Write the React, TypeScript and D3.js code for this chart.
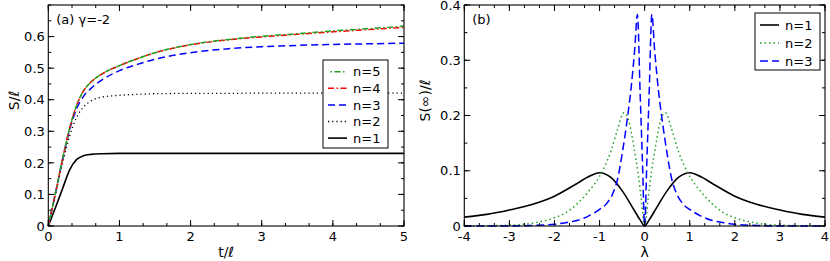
import React from 'react';
import * as d3 from 'd3';

// panel (a): S/l versus t/l, gamma = -2
const tVals = [0, 0.1, 0.2, 0.3, 0.4, 0.5, 0.6, 0.75, 1, 1.25, 1.5, 2, 2.5, 3, 3.5, 4, 4.5, 5];
const sN1 = [0, 0.058, 0.118, 0.178, 0.211, 0.223, 0.227, 0.229, 0.23, 0.23, 0.23, 0.23, 0.23, 0.23, 0.23, 0.23, 0.23, 0.23];
const sN2 = [0, 0.1, 0.198, 0.285, 0.345, 0.378, 0.396, 0.408, 0.414, 0.417, 0.419, 0.42, 0.42, 0.421, 0.421, 0.421, 0.421, 0.421];
const sN3 = [0, 0.103, 0.21, 0.305, 0.372, 0.412, 0.436, 0.462, 0.492, 0.512, 0.528, 0.549, 0.561, 0.568, 0.572, 0.575, 0.577, 0.579];
const sN4 = [0, 0.104, 0.212, 0.31, 0.383, 0.43, 0.456, 0.481, 0.508, 0.53, 0.549, 0.574, 0.589, 0.599, 0.607, 0.615, 0.622, 0.629];
const sN5 = [0, 0.104, 0.212, 0.31, 0.383, 0.43, 0.456, 0.481, 0.508, 0.53, 0.549, 0.575, 0.59, 0.601, 0.609, 0.618, 0.625, 0.633];

// panel (b): S(inf)/l versus lambda
const lam1 = [-4, -3.5, -3, -2.5, -2, -1.5, -1.25, -1, -0.75, -0.5, -0.25, -0.1, 0, 0.1, 0.25, 0.5, 0.75, 1, 1.25, 1.5, 2, 2.5, 3, 3.5, 4];
const inf1 = [0.016, 0.021, 0.029, 0.039, 0.054, 0.077, 0.089, 0.0965, 0.088, 0.064, 0.031, 0.011, 0, 0.011, 0.031, 0.064, 0.088, 0.0965, 0.089, 0.077, 0.054, 0.039, 0.029, 0.021, 0.016];
const lam2 = [-4, -3.5, -3, -2.5, -2, -1.75, -1.5, -1.25, -1, -0.75, -0.6, -0.46, -0.35, -0.25, -0.15, -0.07, 0, 0.07, 0.15, 0.25, 0.35, 0.46, 0.6, 0.75, 1, 1.25, 1.5, 1.75, 2, 2.5, 3, 3.5, 4];
const inf2 = [0, 0.0005, 0.0015, 0.005, 0.015, 0.024, 0.04, 0.062, 0.09, 0.135, 0.175, 0.205, 0.19, 0.148, 0.097, 0.045, 0, 0.045, 0.097, 0.148, 0.19, 0.205, 0.175, 0.135, 0.09, 0.062, 0.04, 0.024, 0.015, 0.005, 0.0015, 0.0005, 0];
const lam3 = [-4, -3, -2.5, -2, -1.75, -1.5, -1.25, -1, -0.85, -0.7, -0.6, -0.5, -0.4, -0.3, -0.22, -0.16, -0.1, -0.05, 0, 0.05, 0.1, 0.16, 0.22, 0.3, 0.4, 0.5, 0.6, 0.7, 0.85, 1, 1.25, 1.5, 1.75, 2, 2.5, 3, 4];
const inf3 = [0, 0, 0.001, 0.003, 0.006, 0.01, 0.018, 0.03, 0.04, 0.06, 0.085, 0.13, 0.185, 0.25, 0.32, 0.383, 0.24, 0.12, 0, 0.12, 0.24, 0.383, 0.32, 0.25, 0.185, 0.13, 0.085, 0.06, 0.04, 0.03, 0.018, 0.01, 0.006, 0.003, 0.001, 0, 0];

const aXTicks = [0, 1, 2, 3, 4, 5];
const aYTicks = [0, 0.1, 0.2, 0.3, 0.4, 0.5, 0.6];
const bXTicks = [-4, -3, -2, -1, 0, 1, 2, 3, 4];
const bYTicks = [0, 0.1, 0.2, 0.3, 0.4];

const FONT = 'DejaVu Sans, Verdana, sans-serif';
const GREEN = '#22a022';

type Series = { name: string; xs: number[]; ys: number[]; color: string; dash?: string; offset?: number; width?: number };

const fmt = (v: number) => String(+v.toFixed(2));

function Panel(props: {
  x0: number; x1: number; y0: number; y1: number;
  xDomain: [number, number]; yDomain: [number, number];
  xTicks: number[]; yTicks: number[]; xMinorStep: number; yMinorStep: number;
  series: Series[]; tag: string; xTitle: string; yTitle: string; yTitleX: number;
  legend: Series[]; legendBox: [number, number, number, number]; legendY0: number; legendStep: number;
}) {
  const p = props;
  const x = d3.scaleLinear().domain(p.xDomain).range([p.x0, p.x1]);
  const y = d3.scaleLinear().domain(p.yDomain).range([p.y1, p.y0]);
  const xMinor = d3.range(p.xDomain[0], p.xDomain[1] + 1e-9, p.xMinorStep);
  const yMinor = d3.range(p.yDomain[0], p.yDomain[1] + 1e-9, p.yMinorStep);
  const line = d3.line<[number, number]>().x(d => x(d[0])).y(d => y(d[1])).curve(d3.curveMonotoneX);
  const [lx, ly, lw, lh] = p.legendBox;

  return (
    <g>
      <defs>
        <clipPath id={'clip' + p.tag}>
          <rect x={p.x0} y={p.y0} width={p.x1 - p.x0} height={p.y1 - p.y0} />
        </clipPath>
      </defs>
      <g clipPath={`url(#clip${p.tag})`}>
        {p.series.map(s => (
          <path key={s.name} d={line(s.xs.map((v, i) => [v, s.ys[i]]) as [number, number][]) || ''}
            fill="none" stroke={s.color} strokeWidth={s.width ?? 1.5}
            strokeDasharray={s.dash} strokeDashoffset={s.offset ?? 0} />
        ))}
      </g>
      <rect x={p.x0} y={p.y0} width={p.x1 - p.x0} height={p.y1 - p.y0} fill="none" stroke="#000" strokeWidth={1.1} />
      {/* ticks, inward on all sides */}
      {xMinor.map((v, i) => (
        <g key={'xm' + i} stroke="#000" strokeWidth={1}>
          <line x1={x(v)} x2={x(v)} y1={p.y1} y2={p.y1 - 3} />
          <line x1={x(v)} x2={x(v)} y1={p.y0} y2={p.y0 + 3} />
        </g>
      ))}
      {yMinor.map((v, i) => (
        <g key={'ym' + i} stroke="#000" strokeWidth={1}>
          <line x1={p.x0} x2={p.x0 + 3} y1={y(v)} y2={y(v)} />
          <line x1={p.x1} x2={p.x1 - 3} y1={y(v)} y2={y(v)} />
        </g>
      ))}
      {p.xTicks.map(v => (
        <g key={'xt' + v}>
          <line x1={x(v)} x2={x(v)} y1={p.y1} y2={p.y1 - 6} stroke="#000" />
          <line x1={x(v)} x2={x(v)} y1={p.y0} y2={p.y0 + 6} stroke="#000" />
          <text x={x(v)} y={p.y1 + 15} textAnchor="middle" fontSize={13} fontFamily={FONT}>{fmt(v)}</text>
        </g>
      ))}
      {p.yTicks.map(v => (
        <g key={'yt' + v}>
          <line x1={p.x0} x2={p.x0 + 6} y1={y(v)} y2={y(v)} stroke="#000" />
          <line x1={p.x1} x2={p.x1 - 6} y1={y(v)} y2={y(v)} stroke="#000" />
          <text x={p.x0 - 3.5} y={y(v) + 4.7} textAnchor="end" fontSize={13} fontFamily={FONT}>{fmt(v)}</text>
        </g>
      ))}
      <text x={(p.x0 + p.x1) / 2} y={p.y1 + 31} textAnchor="middle" fontSize={14} fontFamily={FONT}>{p.xTitle}</text>
      <text transform={`translate(${p.yTitleX},${(p.y0 + p.y1) / 2 - 15}) rotate(-90)`} textAnchor="middle"
        fontSize={14} fontFamily={FONT}>{p.yTitle}</text>
      <text x={p.x0 + 8} y={p.y0 + 19} fontSize={13} fontFamily={FONT}>{p.tag}</text>
      {/* legend */}
      <rect x={lx} y={ly} width={lw} height={lh} fill="#fff" stroke="#000" strokeWidth={1} />
      {p.legend.map((s, i) => {
        const cy = p.legendY0 + i * p.legendStep;
        return (
          <g key={'lg' + s.name}>
            <line x1={lx + 5} x2={lx + 24} y1={cy} y2={cy} stroke={s.color} strokeWidth={s.width ?? 1.5}
              strokeDasharray={s.dash} strokeDashoffset={s.offset ?? 0} />
            <text x={lx + 30} y={cy + 4.7} fontSize={13} fontFamily={FONT}>{s.name}</text>
          </g>
        );
      })}
    </g>
  );
}

export default function App() {
  const aSeries: Series[] = [
    { name: 'n=1', xs: tVals, ys: sN1, color: '#000', width: 1.6 },
    { name: 'n=2', xs: tVals, ys: sN2, color: '#000', dash: '1.2,3', width: 1.3 },
    { name: 'n=3', xs: tVals, ys: sN3, color: '#0000ff', dash: '7,4' },
    { name: 'n=4', xs: tVals, ys: sN4, color: '#ff0000', dash: '6,2.5,1.5,2.5' },
    { name: 'n=5', xs: tVals, ys: sN5, color: GREEN, dash: '6,2.5,1.5,2.5', offset: 6 },
  ];
  const bSeries: Series[] = [
    { name: 'n=1', xs: lam1, ys: inf1, color: '#000', width: 1.6 },
    { name: 'n=2', xs: lam2, ys: inf2, color: GREEN, dash: '1.5,3' },
    { name: 'n=3', xs: lam3, ys: inf3, color: '#0000ff', dash: '8,4' },
  ];
  return (
    <svg width={830} height={261} style={{ position: 'absolute', left: 0, top: 0, background: '#fff' }}>
      <Panel x0={48.3} x1={404} y0={5} y1={226} xDomain={[0, 5]} yDomain={[0, 0.7]}
        xTicks={aXTicks} yTicks={aYTicks} xMinorStep={1 / 3} yMinorStep={0.05}
        series={aSeries} tag="(a) γ=-2" xTitle="t/ℓ" yTitle="S/ℓ" yTitleX={19}
        legend={[...aSeries].reverse()} legendBox={[323, 60, 65, 88]} legendY0={71.7} legendStep={16.6} />
      <Panel x0={464.3} x1={825} y0={5} y1={226} xDomain={[-4, 4]} yDomain={[0, 0.4]}
        xTicks={bXTicks} yTicks={bYTicks} xMinorStep={1 / 3} yMinorStep={0.05}
        series={bSeries} tag="(b)" xTitle="λ" yTitle="S(∞)/ℓ" yTitleX={430}
        legend={bSeries} legendBox={[755, 13, 65, 57]} legendY0={25} legendStep={18} />
    </svg>
  );
}
